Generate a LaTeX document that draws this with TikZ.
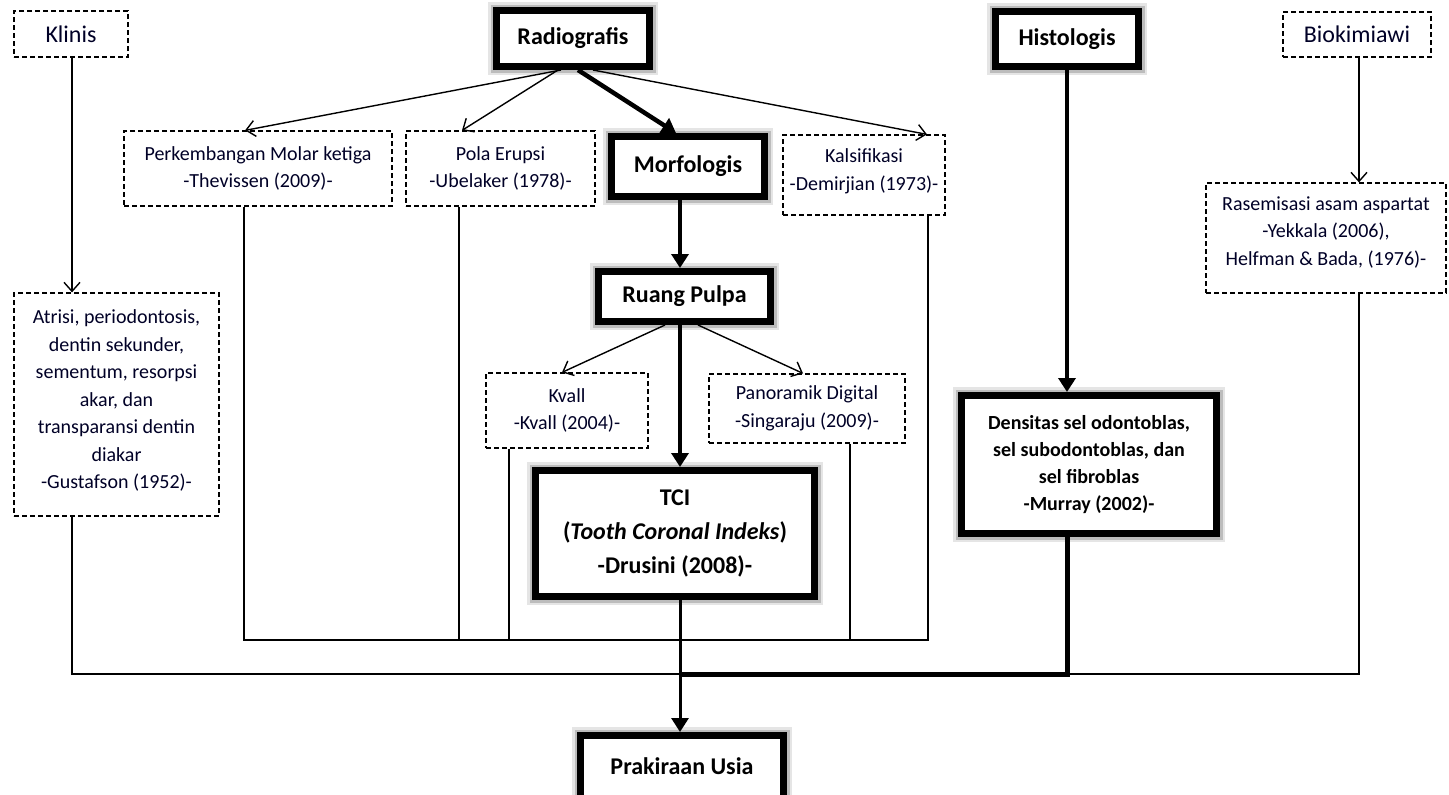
\documentclass[tikz,border=0pt]{standalone}
\usepackage{fontspec}
\setmainfont{Carlito}
\usetikzlibrary{arrows.meta,calc}
\tikzset{
  dbox/.style={draw, dash pattern=on 5pt off 3pt, line width=1.2pt, align=center,
    inner sep=0pt, font=\fontsize{20}{27.5}\selectfont, text=black!85!blue},
  tbox/.style={draw, line width=7pt, align=center, inner sep=0pt,
    font=\bfseries\fontsize{24}{28}\selectfont,
    preaction={draw=black, line width=17pt, opacity=0.10},
    preaction={draw=black, line width=12pt, opacity=0.18},
    fill=white},
  thinarr/.style={line width=1.4pt, -{Straight Barb[length=9pt,width=16pt,line width=1.4pt]}},
  thickarr/.style={line width=4.5pt, -{Triangle[length=14pt,width=17pt]}},
  thinline/.style={line width=1.1pt},
  thickline/.style={line width=5pt},
}
\begin{document}
\begin{tikzpicture}[x=1pt,y=-1pt]
\useasboundingbox (0,0) rectangle (1449,795);
% dashed boxes
\node[dbox, minimum width=114, minimum height=46, font=\fontsize{24}{28}\selectfont] (klinis) at (71,34) {Klinis};
\node[dbox, minimum width=205, minimum height=223] (atrisi) at (116.5,404.5)
  {Atrisi, periodontosis,\\dentin sekunder,\\sementum, resorpsi\\akar, dan\\transparansi dentin\\diakar\\-Gustafson (1952)-\\[-17pt]};
\node[dbox, minimum width=268, minimum height=75] (perk) at (258,168.5)
  {Perkembangan Molar ketiga\\-Thevissen (2009)-};
\node[dbox, minimum width=189, minimum height=75] (pola) at (500.5,168.5)
  {Pola Erupsi\\-Ubelaker (1978)-};
\node[dbox, minimum width=162, minimum height=80] (kals) at (864,175)
  {Kalsifikasi\\-Demirjian (1973)-\\[-17pt]};
\node[dbox, minimum width=148, minimum height=45, font=\fontsize{24}{28}\selectfont] (bio) at (1357,34.5) {Biokimiawi};
\node[dbox, minimum width=240, minimum height=110] (rase) at (1326,238)
  {Rasemisasi asam aspartat\\-Yekkala (2006),\\Helfman \& Bada, (1976)-\\[-13pt]};
\node[dbox, minimum width=162, minimum height=75] (kvall) at (567,410.5)
  {Kvall\\-Kvall (2004)-};
\node[dbox, minimum width=196, minimum height=69] (pano) at (807,408.5)
  {Panoramik Digital\\-Singaraju (2009)-};
% thick boxes
\node[tbox, minimum width=153, minimum height=56] (radio) at (573,38.5) {Radiografis};
\node[tbox, minimum width=153, minimum height=60] (morf) at (688,166.5) {Morfologis};
\node[tbox, minimum width=143, minimum height=55] (hist) at (1067,39) {Histologis};
\node[tbox, minimum width=172, minimum height=50] (ruang) at (684.5,296.5) {Ruang Pulpa};
\node[tbox, minimum width=279, minimum height=126, font=\bfseries\fontsize{24}{34}\selectfont] (tci) at (675,533.5)
  {TCI\\(\textit{Tooth Coronal Indeks})\\-Drusini (2008)-};
\node[tbox, minimum width=255, minimum height=138, font=\bfseries\fontsize{20}{27}\selectfont] (dens) at (1089,464.5)
  {Densitas sel odontoblas,\\sel subodontoblas, dan\\sel fibroblas\\-Murray (2002)-};
\node[tbox, minimum width=203, minimum height=70] (prak) at (682,770.5) {\raisebox{8pt}{Prakiraan Usia}};
% helper coordinates
\coordinate (outerL) at (72,674);
\coordinate (outerR) at (1359,674);
\coordinate (main) at (680,674);
\coordinate (innerL) at (244,640);
\coordinate (innerR) at (928,640);
% arrows from Radiografis
\draw[thinarr] ($(radio.south)+(-12,0)$) -- (perk.north -| 245,0);
\draw[thinarr] ($(radio.south)+(-15,0)$) -- (pola.north -| 462,0);
\draw[thinarr] ($(radio.south)+(20,0)$) -- (kals.north -| 927,0);
\draw[thickarr] ($(radio.south)+(5,0)$) -- (morf.north -| 676,0);
% vertical main chain
\draw[thickarr] (morf.south -| 680,0) -- (ruang.north -| 680,0);
\draw[thickarr] (ruang.south -| 680,0) -- (tci.north -| 680,0);
\draw[thinarr] (ruang.south -| 665,0) -- (kvall.north -| 562,0);
\draw[thinarr] (ruang.south -| 698,0) -- (pano.north -| 803,0);
% Klinis and Biokimiawi
\draw[thinarr] (klinis.south -| 72,0) -- (atrisi.north -| 72,0);
\draw[thinarr] (bio.south -| 1359,0) -- (rase.north -| 1359,0);
% Histologis
\draw[thickarr] (hist.south) -- (hist.south |- dens.north);
% inner collector
\draw[thinline] (perk.south -| innerL) -- (innerL) -- (innerR) -- (kals.south -| innerR);
\draw[thinline] (pola.south -| 459,0) -- (459,640);
\draw[thinline] (kvall.south -| 509,0) -- (509,640);
\draw[thinline] (pano.south -| 850,0) -- (850,640);
% outer collector
\draw[thinline] (atrisi.south -| outerL) -- (outerL) -- (outerR) -- (rase.south -| outerR);
\draw[thickline] (hist.south |- dens.south) -- (hist.south |- main) -- (main);
% to Prakiraan
\draw[thickarr, line width=3pt] (tci.south -| main) -- (prak.north -| main);
\end{tikzpicture}
\end{document}
